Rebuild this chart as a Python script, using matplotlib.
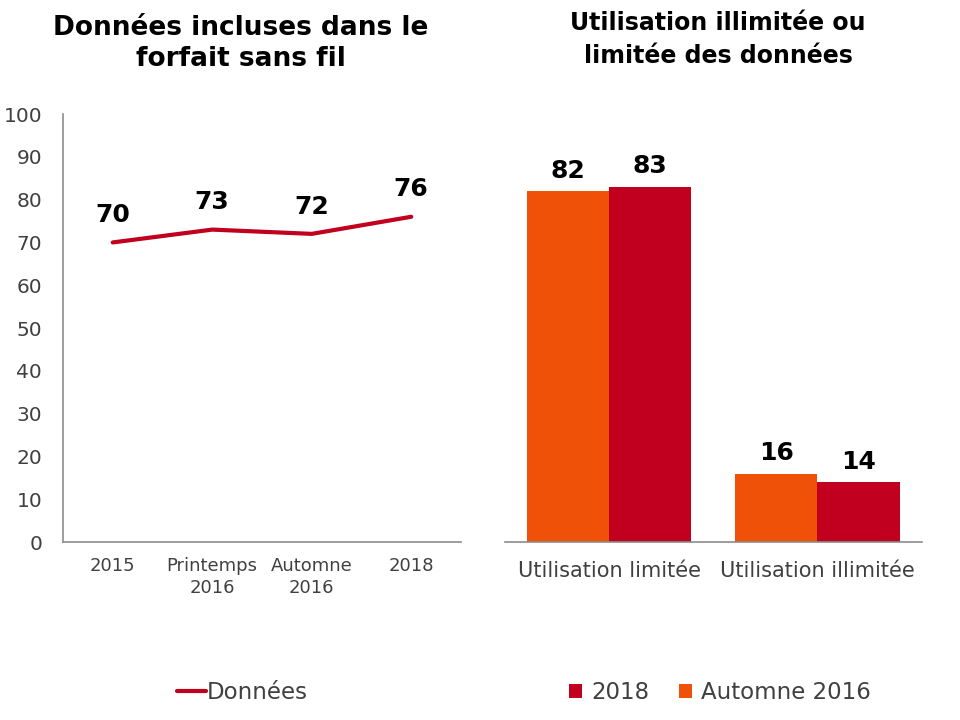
import matplotlib
matplotlib.use("Agg")
import matplotlib.pyplot as plt
import numpy as np

plt.rcParams['font.family'] = ['DejaVu Sans']

# left chart data
periods = ['2015', 'Printemps\n2016', 'Automne\n2016', '2018']
donnees = [70, 73, 72, 76]

# right chart data
usage = ['Utilisation limitée', 'Utilisation illimitée']
automne_2016 = [82, 16]
an_2018 = [83, 14]

red = '#C0001E'
orange = '#EE5107'
grey = '#8C8C8C'
txt = '#404040'

fig = plt.figure(figsize=(9.6, 7.2), dpi=100)

# ---- left: line chart
ax1 = fig.add_axes([0.0656, 0.2472, 0.4146, 0.5944])
x = np.arange(len(periods))
ax1.plot(x, donnees, color=red, lw=3.0, label='Données', solid_capstyle='round')
for xi, v in zip(x, donnees):
    ax1.annotate(str(v), (xi, v), xytext=(0, 11), textcoords='offset points',
                 ha='center', va='bottom', fontsize=18, fontweight='bold', color='black')
ax1.set_xlim(-0.5, len(periods) - 0.5)
ax1.set_ylim(0, 100)
ax1.set_yticks(range(0, 101, 10))
ax1.set_xticks(x)
ax1.set_xticklabels(periods, fontsize=13, color=txt, linespacing=1.3)
ax1.tick_params(axis='y', labelsize=14.5, labelcolor=txt, length=0, pad=15)
ax1.tick_params(axis='x', length=0, pad=11)
for s in ['top', 'right']:
    ax1.spines[s].set_visible(False)
for s in ['left', 'bottom']:
    ax1.spines[s].set_color(grey)
    ax1.spines[s].set_linewidth(1.2)
fig.text(0.251, 0.939, 'Données incluses dans le\nforfait sans fil', fontsize=19,
         fontweight='bold', ha='center', va='center', linespacing=1.25)
ax1.legend(loc='center', bbox_to_anchor=(0.252, 0.038), bbox_transform=fig.transFigure,
           frameon=False, fontsize=16.5, handlelength=1.3, handletextpad=0.0,
           labelcolor=txt)

# ---- right: grouped bars
ax2 = fig.add_axes([0.526, 0.2472, 0.434, 0.5944])
xb = np.arange(len(usage))
w = 0.394
b1 = ax2.bar(xb - w / 2, automne_2016, w, color=orange, label='Automne 2016')
b2 = ax2.bar(xb + w / 2, an_2018, w, color=red, label='2018')
for bars in (b1, b2):
    for r in bars:
        ax2.annotate(str(int(r.get_height())), (r.get_x() + r.get_width() / 2, r.get_height()),
                     xytext=(0, 6), textcoords='offset points', ha='center', va='bottom',
                     fontsize=18, fontweight='bold', color='black')
ax2.set_xlim(-0.5, len(usage) - 0.5)
ax2.set_ylim(0, 100)
ax2.set_yticks([])
ax2.set_xticks(xb)
ax2.set_xticklabels(usage, fontsize=15, color=txt)
ax2.tick_params(axis='x', length=0, pad=14)
for s in ['top', 'right', 'left']:
    ax2.spines[s].set_visible(False)
ax2.spines['bottom'].set_color(grey)
ax2.spines['bottom'].set_linewidth(1.2)
fig.text(0.748, 0.945, 'Utilisation illimitée ou\nlimitée des données', fontsize=17,
         fontweight='bold', ha='center', va='center', linespacing=1.45)
handles, labels = ax2.get_legend_handles_labels()
ax2.legend(handles[::-1], labels[::-1], loc='center', bbox_to_anchor=(0.750, 0.038),
           bbox_transform=fig.transFigure, ncol=2, frameon=False, fontsize=16.5,
           handlelength=0.55, handleheight=0.55, handletextpad=0.4, columnspacing=1.3,
           labelcolor=txt)

fig.savefig('out.png', dpi=100)
